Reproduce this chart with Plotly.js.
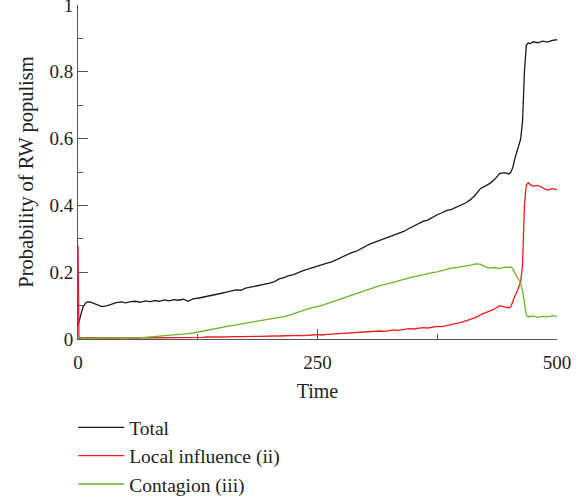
<!DOCTYPE html>
<html>
<head>
<meta charset="utf-8">
<script src="https://cdn.plot.ly/plotly-3.0.1.min.js"></script>
<style>html,body{margin:0;padding:0;background:#fff;}#chart{width:586px;height:497px;}</style>
</head>
<body>
<div id="chart"></div>
<script>
var time = [0,1,3,5,8,10,13,16,
  20,25,30,35,40,45,50,55,60,65,70,75,80,85,90,95,100,105,110,115,120,125,130,135,140,145,150,155,160,165,170,175,180,185,190,195,200,205,210,215,220,225,230,235,240,245,250,255,260,265,270,275,280,285,290,295,300,305,310,315,320,325,330,335,340,345,350,355,360,365,370,375,380,385,390,395,400,405,410,415,420,425,430,435,440,445,450,
  452,454,456,458,460,462,464,466,468,470,472,
  475,480,485,490,495,500];

var total = [0.040,0.050,0.075,0.095,0.108,0.111,0.110,0.107,
  0.101,0.097,0.099,0.104,0.109,0.111,0.108,0.112,0.113,0.110,0.114,0.112,0.115,0.113,0.117,0.114,0.118,0.116,0.119,0.113,0.120,0.122,0.126,0.128,0.131,0.133,0.137,0.140,0.143,0.147,0.146,0.152,0.155,0.158,0.160,0.165,0.167,0.172,0.180,0.184,0.190,0.193,0.200,0.205,0.209,0.214,0.218,0.222,0.227,0.231,0.238,0.245,0.250,0.258,0.262,0.270,0.279,0.285,0.290,0.295,0.300,0.306,0.310,0.315,0.322,0.330,0.338,0.345,0.352,0.356,0.365,0.372,0.378,0.385,0.388,0.395,0.400,0.408,0.418,0.432,0.450,0.458,0.466,0.478,0.495,0.498,0.494,
  0.500,0.515,0.540,0.560,0.575,0.598,0.650,0.800,0.880,0.887,0.884,
  0.890,0.887,0.892,0.889,0.894,0.896];

var localInfluence = [0.280,0.006,0.004,0.003,0.003,0.004,0.003,0.004,
  0.003,0.004,0.003,0.003,0.004,0.003,0.004,0.003,0.003,0.004,0.003,0.004,0.003,0.004,0.003,0.004,0.004,0.005,0.004,0.005,0.005,0.004,0.005,0.006,0.005,0.006,0.006,0.007,0.006,0.007,0.007,0.008,0.007,0.008,0.008,0.009,0.008,0.009,0.009,0.010,0.009,0.010,0.011,0.010,0.012,0.012,0.013,0.012,0.014,0.015,0.014,0.016,0.018,0.017,0.019,0.021,0.022,0.021,0.023,0.024,0.023,0.025,0.027,0.026,0.028,0.031,0.030,0.032,0.034,0.033,0.036,0.038,0.037,0.041,0.044,0.047,0.050,0.055,0.060,0.064,0.072,0.078,0.082,0.090,0.100,0.097,0.093,
  0.098,0.115,0.128,0.140,0.155,0.170,0.220,0.400,0.462,0.468,0.462,
  0.458,0.460,0.452,0.446,0.450,0.447];

var contagion = [0.002,0.002,0.002,0.003,0.002,0.002,0.003,0.002,
  0.002,0.003,0.002,0.003,0.003,0.002,0.003,0.003,0.004,0.004,0.005,0.006,0.007,0.008,0.009,0.010,0.011,0.012,0.014,0.016,0.018,0.021,0.024,0.026,0.029,0.032,0.035,0.037,0.040,0.042,0.045,0.047,0.050,0.052,0.055,0.057,0.059,0.062,0.064,0.067,0.071,0.076,0.082,0.086,0.090,0.094,0.097,0.101,0.106,0.111,0.117,0.122,0.127,0.132,0.137,0.142,0.146,0.150,0.155,0.160,0.163,0.167,0.172,0.176,0.179,0.183,0.186,0.189,0.193,0.196,0.199,0.201,0.205,0.209,0.212,0.214,0.216,0.219,0.221,0.225,0.224,0.216,0.212,0.214,0.211,0.215,0.214,
  0.216,0.210,0.198,0.188,0.178,0.168,0.145,0.110,0.072,0.066,0.067,
  0.069,0.065,0.068,0.066,0.070,0.068];

var seriesNames = ['Total', 'Local influence (ii)', 'Contagion (iii)'];
var xTicks = [0, 250, 500];
var xMinor = [125, 375];
var yTicks = [0, 0.2, 0.4, 0.6, 0.8, 1];
var yTickText = ['0', '0.2', '0.4', '0.6', '0.8', '1'];
var yMinor = [0.1, 0.3, 0.5, 0.7, 0.9];

var FONT = 'Liberation Serif, Times New Roman, serif';
var AX = '#555';
var traces = [
  {x: time, y: total, name: seriesNames[0], line: {color: '#1a1a1a', width: 1.3}},
  {x: time, y: localInfluence, name: seriesNames[1], line: {color: '#ee1c1c', width: 1.3}},
  {x: time, y: contagion, name: seriesNames[2], line: {color: '#6ab52a', width: 1.3}}
].map(function(t){ t.type='scatter'; t.mode='lines'; return t; });

function axisBase(extra) {
  return Object.assign({
    showgrid: false, zeroline: false, showline: true, linecolor: AX, linewidth: 1,
    ticks: 'inside', ticklen: 10, tickcolor: AX, tickwidth: 1, automargin: false,
    tickfont: {family: FONT, size: 19, color: '#222'}
  }, extra);
}

var layout = {
  width: 586, height: 497,
  margin: {l: 78, r: 29, t: 5, b: 158, autoexpand: false},
  paper_bgcolor: '#fff', plot_bgcolor: '#fff',
  showlegend: true,
  legend: {x: -0.01, xanchor: 'left', y: -0.207, yanchor: 'top',
    bgcolor: 'rgba(0,0,0,0)', font: {family: FONT, size: 19.5, color: '#222'}, itemwidth: 46},
  xaxis: axisBase({
    range: [0, 500], tickvals: xTicks, ticktext: xTicks.map(String),
    minor: {tickvals: xMinor, ticklen: 5, ticks: 'inside', tickcolor: AX},
    ticklabelstandoff: 6,
    title: {text: 'Time', font: {family: FONT, size: 20, color: '#222'}, standoff: 12}
  }),
  yaxis: axisBase({
    range: [0, 1], tickvals: yTicks, ticktext: yTickText, ticklabeloverflow: 'allow',
    minor: {tickvals: yMinor, ticklen: 5, ticks: 'inside', tickcolor: AX},
    title: {text: 'Probability of RW populism', font: {family: FONT, size: 20.5, color: '#222'}, standoff: 10}
  }),
  xaxis2: axisBase({
    overlaying: 'x', side: 'top', anchor: 'y', range: [0, 500], tickvals: xTicks, showticklabels: false,
    minor: {tickvals: xMinor, ticklen: 5, ticks: 'inside', tickcolor: AX}
  }),
  yaxis2: axisBase({
    overlaying: 'y', side: 'right', anchor: 'x', range: [0, 1], tickvals: yTicks, showticklabels: false,
    minor: {tickvals: yMinor, ticklen: 5, ticks: 'inside', tickcolor: AX}
  })
};

Plotly.newPlot('chart', traces, layout, {displayModeBar: false, staticPlot: true});
</script>
</body>
</html>
